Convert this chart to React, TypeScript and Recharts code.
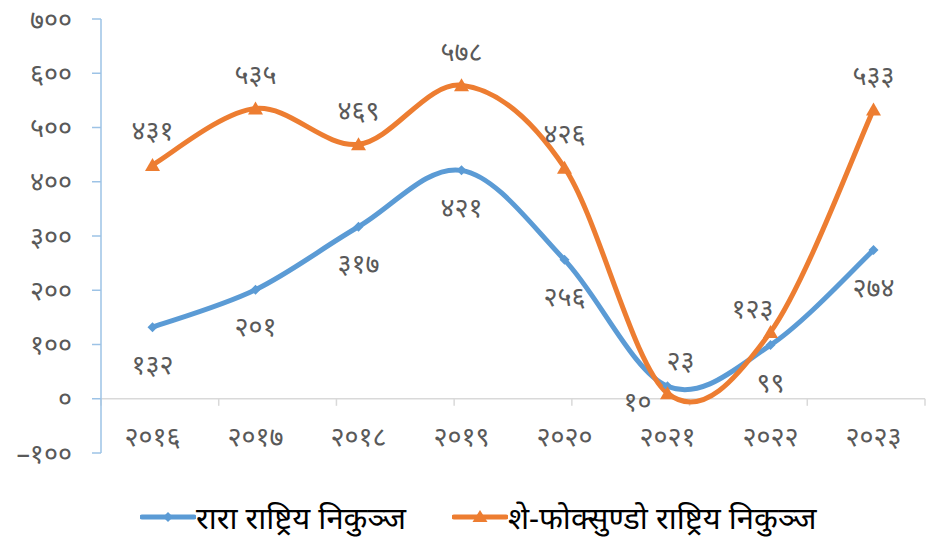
import { LineChart, Line, XAxis, YAxis, ReferenceLine, LabelList, Legend } from 'recharts'

const years = ['2016', '2017', '2018', '2019', '2020', '2021', '2022', '2023']
const raraValues = [132, 201, 317, 421, 256, 23, 99, 274]
const sheValues = [431, 535, 469, 578, 426, 10, 123, 533]
const yTicks = [-100, 0, 100, 200, 300, 400, 500, 600, 700]
const edgeTicks = [0, 1, 2, 3, 4, 5, 6, 7, 8]

const raraName = 'रारा राष्ट्रिय निकुञ्ज'
const sheName = 'शे-फोक्सुण्डो राष्ट्रिय निकुञ्ज'

const BLUE = '#5B9BD5'
const ORANGE = '#ED7D31'
const GREY = '#595959'
const FONT = "'Noto Sans', sans-serif"
const NUM_SIZE = 27

const data = years.map((year, i) => ({ year, rara: raraValues[i], she: sheValues[i] }))

const NE_DIGITS = '०१२३४५६७८९'
const ne = (v: number | string) =>
  String(v).replace(/\d/g, (d) => NE_DIGITS[+d]).replace('-', '–')

// Excel-like smoothing (Catmull-Rom as cubic beziers)
const smooth = (context: any) => {
  let pts: number[][] = []
  return {
    areaStart() {},
    areaEnd() {},
    lineStart() {
      pts = []
    },
    point(x: number, y: number) {
      pts.push([+x, +y])
    },
    lineEnd() {
      if (!pts.length) return
      context.moveTo(pts[0][0], pts[0][1])
      for (let i = 0; i < pts.length - 1; i++) {
        const p0 = pts[i - 1] || pts[i]
        const p1 = pts[i]
        const p2 = pts[i + 1]
        const p3 = pts[i + 2] || p2
        context.bezierCurveTo(
          p1[0] + (p2[0] - p0[0]) / 6,
          p1[1] + (p2[1] - p0[1]) / 6,
          p2[0] - (p3[0] - p1[0]) / 6,
          p2[1] - (p3[1] - p1[1]) / 6,
          p2[0],
          p2[1]
        )
      }
    },
  }
}

const Diamond = ({ cx, cy }: any) => {
  if (cx == null || cy == null) return null
  return <path d={`M${cx},${cy - 5}L${cx + 5},${cy}L${cx},${cy + 5}L${cx - 5},${cy}Z`} fill={BLUE} />
}

const Triangle = ({ cx, cy }: any) => {
  if (cx == null || cy == null) return null
  return <path d={`M${cx},${cy - 7}L${cx + 7.5},${cy + 6}L${cx - 7.5},${cy + 6}Z`} fill={ORANGE} />
}

const makeLabel =
  (dyDefault: number, special: Record<number, [number, number]>) =>
  (props: any) => {
    const { x, y, value, index } = props
    const [dx, dy] = special[index] || [0, dyDefault]
    return (
      <text
        x={x + dx}
        y={y + dy}
        textAnchor="middle"
        dominantBaseline="central"
        fill={GREY}
        fontSize={NUM_SIZE}
        fontFamily={FONT}
      >
        {ne(value)}
      </text>
    )
  }

const raraLabel = makeLabel(36, { 5: [13, -27] })
const sheLabel = makeLabel(-35, { 5: [-30, 7], 6: [-18, -25] })

const XTick = ({ x, y, payload }: any) => (
  <text x={x} y={y} dy={-7} textAnchor="middle" fill={GREY} fontSize={NUM_SIZE} fontFamily={FONT}>
    {ne(payload.value)}
  </text>
)

const LegendContent = () => (
  <div style={{ display: 'flex', alignItems: 'center', fontFamily: FONT, fontSize: 31, color: '#000', lineHeight: '34px' }}>
    <svg width={56} height={20} style={{ marginLeft: 140 }}>
      <line x1={2} y1={10} x2={54} y2={10} stroke={BLUE} strokeWidth={5} strokeLinecap="round" />
      <path d="M28,5L33,10L28,15L23,10Z" fill={BLUE} />
    </svg>
    <span>{raraName}</span>
    <svg width={56} height={20} style={{ marginLeft: 46 }}>
      <line x1={2} y1={10} x2={54} y2={10} stroke={ORANGE} strokeWidth={5} strokeLinecap="round" />
      <path d="M28,3L35.5,15L20.5,15Z" fill={ORANGE} />
    </svg>
    <span>{sheName}</span>
  </div>
)

export default function App() {
  return (
    <div style={{ position: 'absolute', left: 0, top: 0, width: 932, height: 544, background: '#fff' }}>
      <LineChart
        width={932}
        height={544}
        data={data}
        margin={{ top: 19, right: 7, bottom: 71, left: 21 }}
      >
        <XAxis
          dataKey="year"
          height={20}
          axisLine={false}
          tickLine={false}
          tickSize={0}
          tickMargin={0}
          padding={{ left: 51.5, right: 51.5 }}
          tick={<XTick />}
          interval={0}
        />
        <XAxis xAxisId="edge" type="number" domain={[0, 8]} ticks={edgeTicks} hide />
        <YAxis
          width={80}
          domain={[-100, 700]}
          ticks={yTicks}
          interval={0}
          axisLine={{ stroke: '#9DC3E6', strokeWidth: 1.5 }}
          tickLine={{ stroke: '#9DC3E6', strokeWidth: 1.5 }}
          tickSize={9}
          tickMargin={20}
          tickFormatter={ne}
          tick={{ fill: GREY, fontSize: NUM_SIZE, fontFamily: FONT }}
        />
        <ReferenceLine y={0} xAxisId="edge" stroke="#D9D9D9" strokeWidth={1.5} />
        {edgeTicks.map((t) => (
          <ReferenceLine
            key={t}
            xAxisId="edge"
            segment={[
              { x: t, y: 0 },
              { x: t, y: -13 },
            ]}
            stroke="#D9D9D9"
            strokeWidth={1.5}
          />
        ))}
        <Line
          dataKey="rara"
          name={raraName}
          type={smooth as any}
          stroke={BLUE}
          strokeWidth={5}
          dot={<Diamond />}
          activeDot={false}
          isAnimationActive={false}
        >
          <LabelList dataKey="rara" content={raraLabel} />
        </Line>
        <Line
          dataKey="she"
          name={sheName}
          type={smooth as any}
          stroke={ORANGE}
          strokeWidth={5}
          dot={<Triangle />}
          activeDot={false}
          isAnimationActive={false}
        >
          <LabelList dataKey="she" content={sheLabel} />
        </Line>
        <Legend
          verticalAlign="middle"
          align="center"
          content={<LegendContent />}
          wrapperStyle={{ top: 500, left: 0, width: 932, height: 36 }}
        />
      </LineChart>
    </div>
  )
}
